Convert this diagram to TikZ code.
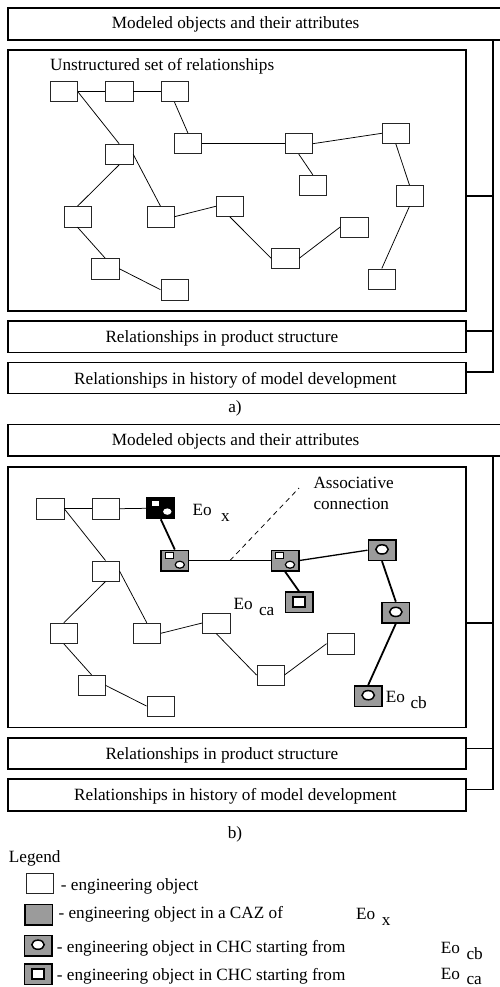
\documentclass[tikz,border=0pt]{standalone}
\usepackage{fontspec}
\setmainfont{Liberation Serif}
\definecolor{mygray}{RGB}{155,155,155}
\newcommand\eosub[2][6.5pt]{Eo\hspace{#1}\raisebox{-6pt}{#2}}
\newcommand\circins[1]{\draw[line width=1.5pt, fill=white] ([shift={(0,-0.8)}]#1.center) ellipse [x radius=6.2pt, y radius=4.6pt];}
\newcommand\sqins[1]{\draw[line width=1.8pt, fill=white] ([shift={(-6.3,-5)}]#1.center) rectangle ([shift={(6.3,5)}]#1.center);}
\newcommand\cazins[1]{\draw[line width=1pt, fill=white] ([shift={(-9.2,-7.8)}]#1.center) rectangle ([shift={(-1.4,-2.4)}]#1.center);
  \draw[line width=1.2pt, fill=white] ([shift={(5,4.2)}]#1.center) ellipse [x radius=4.6pt, y radius=3.5pt];}
\tikzset{
 eobox/.style={rectangle, draw=black!85, line width=0.7pt, fill=white, minimum width=27.3pt, minimum height=20.3pt, inner sep=0pt},
 cazbox/.style={rectangle, draw=black, line width=1.5pt, fill=mygray, minimum width=27.5pt, minimum height=20.5pt, inner sep=0pt},
 xbox/.style={cazbox, fill=black},
 bigbox/.style={rectangle, draw=black, line width=1.6pt, inner sep=0pt},
 rel/.style={line width=0.75pt},
 relthick/.style={line width=1.8pt},
 relmid/.style={line width=1.3pt},
 txt/.style={anchor=base west, inner sep=0pt, font=\fontsize{17.2}{20.6}\selectfont},
 txtc/.style={anchor=base, inner sep=0pt, font=\fontsize{17.2}{20.6}\selectfont},
 bracket/.style={line width=1.6pt},
}
\begin{document}
\begin{tikzpicture}[x=1pt,y=-1pt]
\useasboundingbox (0,0) rectangle (500,987);
% ---------------- part a ----------------
\node[bigbox, minimum width=502pt, minimum height=32pt] (topA) at (259,24) {};
\node[bigbox, minimum width=458pt, minimum height=260.7pt] (mainA) at (237,180.35) {};
\node[bigbox, minimum width=458pt, minimum height=31.3pt] (prodA) at (237,336.65) {};
\node[bigbox, minimum width=458pt, minimum height=31pt] (histA) at (237,377.8) {};
\node[txt] (tA) at (111.7,29) {Modeled objects and their attributes};
\node[txt] (uA) at (50,71) {Unstructured set of relationships};
\node[txt] (pA) at (105.3,342.3) {Relationships in product structure};
\node[txt] (hA) at (74,384) {Relationships in history of model development};
\node[txtc] (capA) at (235,412) {a)};
\coordinate (brA0) at (493,40);
\coordinate (brA1) at (493,196);
\coordinate (brA2) at (493,331);
\coordinate (brA3) at (493,371.7);
\draw[bracket] (brA0) -- (brA3) -- (histA.east |- brA3);
\draw[bracket] (mainA.east |- brA1) -- (brA1);
\draw[bracket] (prodA.east |- brA2) -- (brA2);

\node[eobox] (A) at (63.8,91.7) {};
\node[eobox] (B) at (119.2,91.7) {};
\node[eobox] (C) at (174.5,91.7) {};
\node[eobox] (D) at (119.2,154.3) {};
\node[eobox] (E) at (188,143.7) {};
\node[eobox] (F) at (298.8,143.7) {};
\node[eobox] (G) at (395.8,133.3) {};
\node[eobox] (H) at (312.8,185.3) {};
\node[eobox] (I) at (409.5,195.7) {};
\node[eobox] (J) at (77.5,216.7) {};
\node[eobox] (K) at (160.5,216.7) {};
\node[eobox] (L) at (229.8,206.3) {};
\node[eobox] (M) at (354.2,227) {};
\node[eobox] (N) at (285.2,258.3) {};
\node[eobox] (O) at (105.2,268.7) {};
\node[eobox] (P) at (174.5,289.7) {};
\node[eobox] (Q) at (381.8,279) {};
\draw[rel] (A.east) -- (B.west);
\draw[rel] (B.east) -- (C.west);
\draw[rel] (A.east) -- (D.north);
\draw[rel] (C.south) -- (E.north);
\draw[rel] (E.east) -- (F.west);
\draw[rel] (F.east) -- (G.west);
\draw[rel] (F.south) -- (H.north);
\draw[rel] (G.south) -- (I.north);
\draw[rel] (I.south) -- (Q.north);
\draw[rel] (D.south) -- (J.north);
\draw[rel] (D.east) -- (K.north);
\draw[rel] (K.east) -- (L.west);
\draw[rel] (L.south) -- (N.west);
\draw[rel] (N.east) -- (M.west);
\draw[rel] (J.south) -- (O.north);
\draw[rel] (O.east) -- (P.west);

% ---------------- part b ----------------
\node[bigbox, minimum width=502pt, minimum height=31.4pt] (topB) at (259,440) {};
\node[bigbox, minimum width=458pt, minimum height=260.6pt] (mainB) at (237,597) {};
\node[bigbox, minimum width=458pt, minimum height=31.3pt] (prodB) at (237,753.35) {};
\node[bigbox, minimum width=458pt, minimum height=31.7pt] (histB) at (237,794.85) {};
\node[txt] (tB) at (111.7,445.7) {Modeled objects and their attributes};
\node[txt] (pB) at (105.3,759) {Relationships in product structure};
\node[txt] (hB) at (74,800.5) {Relationships in history of model development};
\node[txtc] (capB) at (235,838.3) {b)};
\coordinate (brB0) at (493,455.7);
\coordinate (brB1) at (493,622.7);
\coordinate (brB2) at (493,748.3);
\coordinate (brB3) at (493,789.3);
\draw[bracket] (brB0) -- (brB3) -- (histB.east |- brB3);
\draw[bracket] (mainB.east |- brB1) -- (brB1);
\draw[bracket] (prodB.east |- brB2) -- (brB2);

\node[txt] (acA) at (313.3,488.3) {Associative};
\node[txt] (acB) at (313.3,509) {connection};

\node[eobox] (a1) at (50.2,508.7) {};
\node[eobox] (a2) at (105.5,508.7) {};
\node[xbox] (X) at (160.8,508.3) {};
\node[cazbox] (Y1) at (174.8,560.5) {};
\node[cazbox] (Y2) at (285,560.5) {};
\node[cazbox] (Z1) at (382,550.2) {};
\node[cazbox] (Z2) at (395.8,612.7) {};
\node[cazbox] (Z3) at (368.2,696) {};
\node[cazbox] (W) at (299,602.3) {};
\node[eobox] (b1) at (105.5,571) {};
\node[eobox] (b2) at (63.8,633.3) {};
\node[eobox] (b3) at (146.8,633.3) {};
\node[eobox] (b4) at (216.2,623) {};
\node[eobox] (b5) at (340.5,643.7) {};
\node[eobox] (b6) at (270.5,675) {};
\node[eobox] (b7) at (91.5,685.3) {};
\node[eobox] (b8) at (160.5,706) {};

\fill[white] ([shift={(-9,-7.5)}]X.center) rectangle ([shift={(-2,-2.7)}]X.center);
\fill[white] ([shift={(6.5,3.3)}]X.center) ellipse [x radius=4.2pt, y radius=3.2pt];
\cazins{Y1}
\cazins{Y2}
\circins{Z1}
\circins{Z2}
\circins{Z3}
\sqins{W}

\node[txt] (eoX) at (192.3,515) {\eosub[9.5pt]{x}};
\node[txt] (eoCA) at (233.3,609) {\eosub{ca}};
\node[txt] (eoCB) at (385.7,702.7) {\eosub[5.5pt]{cb}};

\draw[rel] (a1.east) -- (a2.west);
\draw[rel] (a2.east) -- (X.west);
\draw[rel] (a1.east) -- (b1.north);
\draw[relthick] (X.south) -- (Y1.north);
\draw[relmid] (Y1.east) -- (Y2.west);
\draw[relmid] (Y2.east) -- (Z1.west);
\draw[relthick] (Y2.south) -- (W.north);
\draw[relthick] (Z1.south) -- (Z2.north);
\draw[relthick] (Z2.south) -- (Z3.north);
\draw[rel] (b1.south) -- (b2.north);
\draw[rel] (b1.east) -- (b3.north);
\draw[rel] (b3.east) -- (b4.west);
\draw[rel] (b4.south) -- (b6.west);
\draw[rel] (b6.east) -- (b5.west);
\draw[rel] (b2.south) -- (b7.north);
\draw[rel] (b7.east) -- (b8.west);
\coordinate (ac1) at (230,560.5);
\coordinate (ac2) at (299,488);
\draw[rel, dash pattern=on 5pt off 4pt] (ac1) -- (ac2);

% ---------------- legend ----------------
\node[txt] (leg) at (8.7,862.7) {Legend};
\node[eobox] (L1) at (39.5,883.5) {};
\node[cazbox] (L2) at (38.8,914.8) {};
\node[cazbox] (L3) at (38,945.5) {};
\node[cazbox] (L4) at (38,974.2) {};
\circins{L3}
\sqins{L4}
\node[txt] (lt1) at (60.7,890) {- engineering object};
\node[txt] (lt2) at (58.3,918.3) {- engineering object in a CAZ of};
\node[txt] (lt3) at (56.7,952.3) {- engineering object in CHC starting from};
\node[txt] (lt4) at (56.7,980.5) {- engineering object in CHC starting from};
\node[txt] (eoL2) at (356,919) {\eosub{x}};
\node[txt] (eoL3) at (440.7,953.3) {\eosub{cb}};
\node[txt] (eoL4) at (440.7,979.5) {Eo\hspace{6.5pt}\raisebox{-5pt}{ca}};
\end{tikzpicture}
\end{document}
